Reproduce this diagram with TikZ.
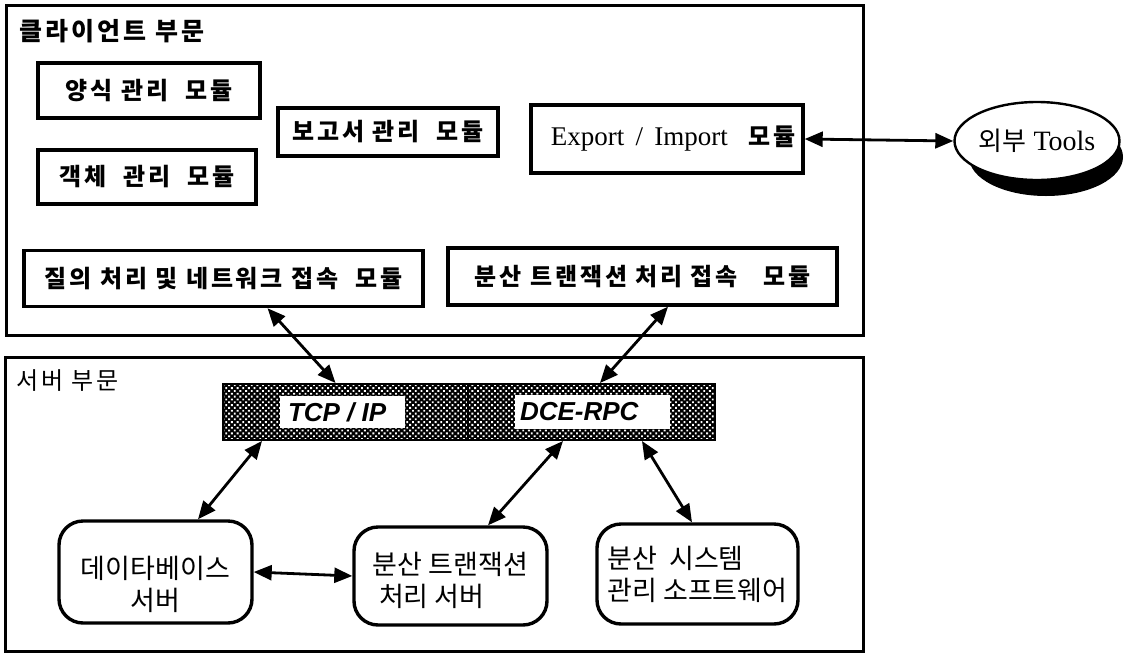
\documentclass[tikz,border=0pt]{standalone}
\usepackage{fontspec}
\setmainfont{Liberation Serif}
\newfontfamily\kr{Noto Sans CJK KR}
\newfontfamily\krw{Noto Sans CJK KR}[LetterSpace=12]
\newfontfamily\hv{Liberation Sans}
\usetikzlibrary{shapes.geometric,arrows.meta,patterns.meta}
\begin{document}
\begin{tikzpicture}[x=0.5pt,y=-0.5pt,
  outer/.style={draw,line width=1.5pt,inner sep=0pt},
  modbox/.style={draw,line width=1.7pt,inner sep=0pt,font=\krw\bfseries\fontsize{12}{14}\selectfont},
  srvbox/.style={draw,line width=1.7pt,rounded corners=12pt,inner sep=0pt},
  srvtext/.style={font=\kr\fontsize{13.5}{16}\selectfont,inner sep=0pt,align=left},
  barpart/.style={draw,line width=1pt,inner sep=0pt,preaction={fill=black},
     pattern={Dots[distance=2pt,radius=0.66pt,angle=45]},pattern color=white},
  barlabel/.style={fill=white,inner sep=0pt},
  bartext/.style={anchor=west,inner sep=0pt,font=\hv\bfseries\itshape\fontsize{13}{15}\selectfont},
  biarrow/.style={line width=1.4pt,{Triangle[length=9pt,width=7.5pt]}-{Triangle[length=9pt,width=7.5pt]}}
]
\useasboundingbox (0,0) rectangle (1126,654);
\fill[white] (0,0) rectangle (1126,654);

% containers
\node[outer,minimum width=428.5pt,minimum height=165pt] (client) at (434.5,170) {};
\node[outer,minimum width=429pt,minimum height=147pt] (server) at (434,504) {};
\node[anchor=west,inner sep=0pt,font=\krw\bfseries\fontsize{12.5}{14}\selectfont] (cllabel) at (19,31) {클라이언트 부문};
\node[anchor=west,inner sep=0pt,font=\krw\fontsize{12}{14}\selectfont] (svlabel) at (16,381) {서버 부문};

% client modules
\node[modbox,minimum width=111pt,minimum height=27.5pt] (yangsik) at (149,90.5) {양식 관리 \ 모듈};
\node[modbox,minimum width=110pt,minimum height=24pt] (bogo) at (388,132) {보고서 관리 \ 모듈};
\node[modbox,minimum width=109pt,minimum height=27pt] (gaekche) at (147,177) {객체 \ 관리 \ 모듈};
\node[modbox,minimum width=136pt,minimum height=34pt,font=\fontsize{13.5}{16}\selectfont] (export) at (667,139) {\hspace*{6pt}Export \,/\, Import \ \ {\krw\bfseries\fontsize{12}{14}\selectfont 모듈}};
\node[modbox,minimum width=199.5pt,minimum height=28pt] (jilui) at (223.5,278.5) {질의 처리 및 네트워크 접속 \ 모듈};
\node[modbox,minimum width=194.5pt,minimum height=28.5pt] (bunsan) at (642.5,276.5) {분산 트랜잭션 처리 접속 \ \ 모듈};

% external tools
\fill[black] (1046,157) ellipse [x radius=77, y radius=39];
\node[draw,line width=1.2pt,fill=white,ellipse,inner sep=0pt,minimum width=77pt,minimum height=39pt,font=\fontsize{14}{16}\selectfont] (tools) at (1037,141) {{\kr\fontsize{13}{15}\selectfont 외부}\ Tools};

% protocol bar
\node[barpart,minimum width=122.5pt,minimum height=28pt] (tcp) at (345.5,412) {};
\node[barpart,minimum width=123.5pt,minimum height=28pt] (dce) at (591.5,412) {};
\node[barlabel,minimum width=62.5pt,minimum height=16pt] (tcplabel) at (342.5,412) {};
\node[barlabel,minimum width=77.5pt,minimum height=17pt] (dcelabel) at (592.5,412) {};
\node[bartext] (tcptext) at ([xshift=4pt]tcplabel.west) {TCP / IP};
\node[bartext] (dcetext) at ([xshift=2.5pt]dcelabel.west) {DCE-RPC};

% server boxes
\node[srvbox,minimum width=96.5pt,minimum height=51pt] (db) at (155.5,572) {};
\node[srvbox,minimum width=96.5pt,minimum height=49pt] (ts) at (450.5,576) {};
\node[srvbox,minimum width=100.5pt,minimum height=50pt] (sm) at (697.5,574) {};
\node[srvtext,align=center] (dbtext) at ([yshift=-6pt]db.center) {데이타베이스\\서버};
\node[srvtext] (tstext) at ([yshift=-2pt]ts.center) {분산 트랜잭션\\\ 처리 서버};
\node[srvtext] (smtext) at (sm.center) {분산 \ 시스템\\관리 소프트웨어};

% connectors
\draw[biarrow] (export.east) -- (tools.west);
\draw[biarrow] ([xshift=22pt]jilui.south) -- ([xshift=-5pt]tcp.north);
\draw[biarrow] ([xshift=12.75pt]bunsan.south) -- ([xshift=4.25pt]dce.north);
\draw[biarrow] ([xshift=-41.75pt]tcp.south) -- ([xshift=21.25pt]db.north);
\draw[biarrow] ([xshift=-14.25pt]dce.south) -- ([xshift=18.75pt]ts.north);
\draw[biarrow] ([xshift=25.25pt]dce.south) -- ([xshift=-2.75pt]sm.north);
\draw[biarrow] (db.east) -- (ts.west);
\end{tikzpicture}
\end{document}
